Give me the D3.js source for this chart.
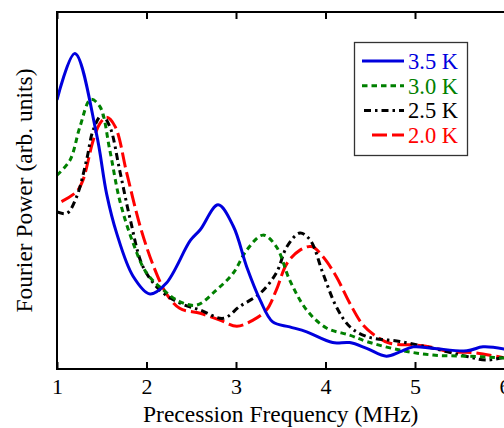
<!DOCTYPE html>
<html>
<head>
<meta charset="utf-8">
<script src="https://cdn.jsdelivr.net/npm/d3@7"></script>
<style>
  body { margin: 0; background: #fff; }
  text { font-family: "Liberation Serif", "Times New Roman", serif; }
</style>
</head>
<body>
<svg id="chart" width="504" height="428"></svg>
<script>
// frequencies (MHz) and power (arb. units)
var x35 = [1, 1.2, 1.44, 1.555, 1.667, 1.85, 2.04, 2.22, 2.49, 2.6, 2.8, 2.97, 3.12, 3.27, 3.41, 3.6, 3.79, 4.08, 4.27, 4.46, 4.68, 4.83, 4.98, 5.2, 5.58, 5.76, 6];
var y35 = [75.4, 88.4, 66, 49, 38, 26, 21, 24, 36, 39, 46, 40, 28.6, 19.3, 13.2, 11.8, 10.4, 7.4, 7.4, 5.8, 3.6, 4.8, 6.2, 5.8, 5.1, 6.2, 5.6];

var x30 = [1, 1.145, 1.257, 1.376, 1.48, 1.59, 1.7, 1.85, 2.0, 2.19, 2.37, 2.56, 2.78, 2.97, 3.12, 3.3, 3.45, 3.6, 3.79, 4.01, 4.27, 4.46, 4.83, 5.2, 5.58, 6];
var y30 = [54.3, 58.5, 67.9, 75.5, 73.5, 61.3, 47.3, 35.3, 26.9, 22.1, 18.9, 17.9, 22.1, 26.9, 33.3, 37.5, 34.3, 24.9, 16.5, 11.5, 9.5, 7.7, 5.3, 3.9, 3.6, 3.1];

var x25 = [1, 1.11, 1.22, 1.33, 1.405, 1.5, 1.59, 1.7, 1.82, 1.96, 2.15, 2.37, 2.6, 2.86, 3.04, 3.27, 3.45, 3.57, 3.715, 3.83, 3.97, 4.12, 4.27, 4.46, 4.83, 5.2, 5.58, 5.8, 6];
var y25 = [44, 43.6, 48.3, 58.5, 67, 71.1, 67.9, 55.7, 41.7, 28.7, 22.1, 18.5, 16.5, 14.2, 17.5, 21.2, 26.9, 34.3, 38.1, 36.1, 26.9, 17.5, 11.9, 9.1, 7.7, 5.8, 3.5, 2.5, 3.3];

var x20 = [1.05, 1.22, 1.29, 1.405, 1.48, 1.555, 1.65, 1.78, 1.93, 2.08, 2.22, 2.37, 2.6, 2.82, 3.01, 3.19, 3.34, 3.45, 3.57, 3.715, 3.845, 3.97, 4.12, 4.27, 4.42, 4.57, 4.72, 5.02, 5.17, 5.39, 5.65, 6];
var y20 = [46.9, 49.7, 52.9, 64.1, 68.8, 70.5, 67.9, 54.8, 39.9, 28.7, 21.2, 17, 15.6, 13.7, 12, 13.7, 16.5, 22.1, 29.6, 33.3, 34.3, 31.5, 25.9, 18.5, 12.3, 9.1, 7.2, 6.7, 6.2, 4.8, 4.6, 3.1];

var labels = ['3.5 K', '3.0 K', '2.5 K', '2.0 K'];
var colors = ['#0000dd', '#008000', '#000000', '#ff0000'];
var dashes = [null, '5.5,4', '7,4,2.5,4', '15,5'];
var xTicks = [1, 2, 3, 4, 5, 6];

var series = [
  {x: x35, y: y35},
  {x: x30, y: y30},
  {x: x25, y: y25},
  {x: x20, y: y20}
];

// plot box (note: 'top' is reserved on window, so use mTop)
var mLeft = 57, mRight = 504.5, mTop = 12, mBottom = 369;
var svg = d3.select('#chart');

var x = d3.scaleLinear().domain([1, 6]).range([mLeft, mRight]);
var y = d3.scaleLinear().domain([0, 100]).range([mBottom, mTop]);

svg.append('clipPath').attr('id', 'clip')
  .append('rect').attr('x', mLeft).attr('y', mTop)
  .attr('width', mRight - mLeft).attr('height', mBottom - mTop);

var line = d3.line()
  .x(function(d) { return x(d[0]); })
  .y(function(d) { return y(d[1]); })
  .curve(d3.curveCatmullRom.alpha(0.5));

var plot = svg.append('g').attr('clip-path', 'url(#clip)');
// draw back to front so blue sits on top
for (var i = series.length - 1; i >= 0; i--) {
  var pts = d3.zip(series[i].x, series[i].y);
  plot.append('path')
    .attr('d', line(pts))
    .attr('fill', 'none')
    .attr('stroke', colors[i])
    .attr('stroke-width', 3)
    .attr('stroke-dasharray', dashes[i]);
}

// bottom axis, ticks pointing inward
var xAxis = d3.axisBottom(x).tickValues(xTicks).tickSizeInner(-7).tickSizeOuter(0).tickPadding(9)
  .tickFormat(d3.format('d'));
var gx = svg.append('g').attr('transform', 'translate(0,' + mBottom + ')').call(xAxis);
gx.selectAll('text').attr('font-size', 22).attr('fill', '#000')
  .style('font-family', '"Liberation Serif", serif');
gx.selectAll('line').attr('stroke', '#000').attr('stroke-width', 2);
gx.select('.domain').remove();

// top axis, ticks only
var gt = svg.append('g').attr('transform', 'translate(0,' + mTop + ')')
  .call(d3.axisTop(x).tickValues(xTicks).tickSizeInner(-7).tickSizeOuter(0).tickFormat(''));
gt.selectAll('line').attr('stroke', '#000').attr('stroke-width', 2);
gt.select('.domain').remove();

// frame
svg.append('line').attr('x1', mLeft).attr('x2', mRight + 2).attr('y1', mBottom).attr('y2', mBottom)
  .attr('stroke', '#000').attr('stroke-width', 2);
svg.append('line').attr('x1', mLeft).attr('x2', mRight + 2).attr('y1', mTop).attr('y2', mTop)
  .attr('stroke', '#000').attr('stroke-width', 2);
svg.append('line').attr('x1', mLeft).attr('x2', mLeft).attr('y1', mTop - 1).attr('y2', mBottom + 1)
  .attr('stroke', '#000').attr('stroke-width', 2);

// axis titles
svg.append('text')
  .attr('x', (mLeft + mRight) / 2).attr('y', 422)
  .attr('text-anchor', 'middle').attr('font-size', 23.5)
  .text('Precession Frequency (MHz)');

svg.append('text')
  .attr('transform', 'translate(32,' + ((mTop + mBottom) / 2) + ') rotate(-90)')
  .attr('text-anchor', 'middle').attr('font-size', 23.5)
  .text('Fourier Power (arb. units)');

// legend
var lg = svg.append('g');
lg.append('rect').attr('x', 354.5).attr('y', 42.5).attr('width', 113).attr('height', 113)
  .attr('fill', '#fff').attr('stroke', '#333').attr('stroke-width', 1.3);

var rows = lg.selectAll('.key').data(labels).enter().append('g')
  .attr('transform', function(d, i) { return 'translate(0,' + (61 + i * 24.7) + ')'; });

rows.append('line')
  .attr('x1', function(d, i) { return i === 3 ? 372 : (i === 2 ? 364 : 362); })
  .attr('x2', 404)
  .attr('stroke', function(d, i) { return colors[i]; })
  .attr('stroke-width', 3)
  .attr('stroke-dasharray', function(d, i) { return dashes[i]; });

rows.append('text')
  .attr('x', 408).attr('y', 8)
  .attr('font-size', 22.5)
  .attr('fill', function(d, i) { return colors[i]; })
  .text(function(d) { return d; });
</script>
</body>
</html>
